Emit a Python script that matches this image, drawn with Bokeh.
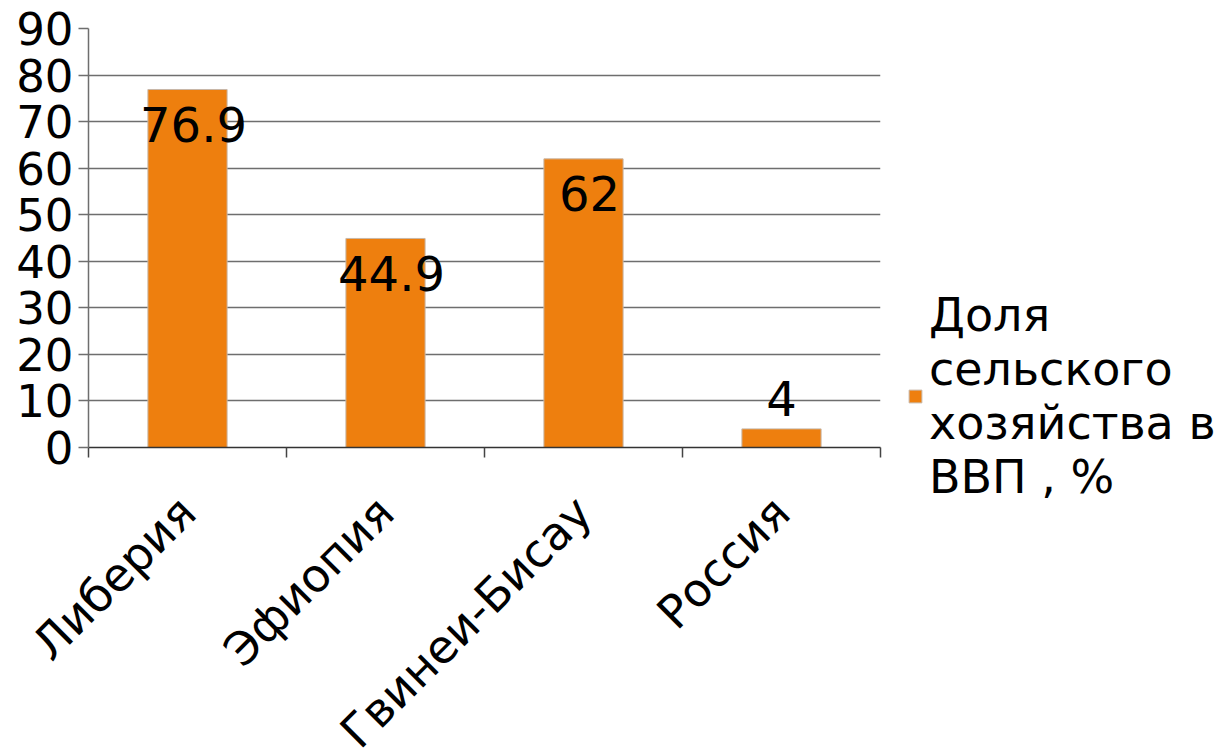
from math import pi
from bokeh.plotting import figure
from bokeh.models import (ColumnDataSource, Range1d, FixedTicker, Legend, LegendItem)
from bokeh.core.properties import value
from bokeh.embed import file_html
from bokeh.resources import INLINE

# ---- data ----
countries = ["Либерия", "Эфиопия", "Гвинеи-Бисау", "Россия"]
shares = [76.9, 44.9, 62, 4]
share_labels = ["76.9", "44.9", "62", "4"]
series_name = "Доля\nсельского\nхозяйства в\nВВП , %"
y_ticks = [0, 10, 20, 30, 40, 50, 60, 70, 80, 90]

FONT = "DejaVu Sans"
BAR = "#ee7f0e"

# layout (pixels)
LEFT, FRAME_W, RIGHT = 88, 792, 348
TOP, FRAME_H, BOTTOM = 28, 419, 308
Y_MAX = 90
N = len(countries)

pos = [i + 0.5 for i in range(N)]
bounds = [float(i) for i in range(N + 1)]

src = ColumnDataSource(dict(x=pos, top=shares, lab=share_labels))
src_in = ColumnDataSource(dict(
    x=[p for p, v in zip(pos, shares) if v >= 10],
    y=[v for v in shares if v >= 10],
    lab=[l for l, v in zip(share_labels, shares) if v >= 10]))
src_out = ColumnDataSource(dict(
    x=[p for p, v in zip(pos, shares) if v < 10],
    y=[v for v in shares if v < 10],
    lab=[l for l, v in zip(share_labels, shares) if v < 10]))

p = figure(frame_width=FRAME_W, frame_height=FRAME_H,
           min_border_left=LEFT, min_border_right=RIGHT,
           min_border_top=TOP, min_border_bottom=BOTTOM,
           x_range=Range1d(0, N), y_range=Range1d(0, Y_MAX),
           output_backend="svg", toolbar_location=None)
p.outline_line_color = None
p.background_fill_color = "white"
p.border_fill_color = "white"

bars = p.vbar(x="x", top="top", width=0.4, bottom=0, source=src,
              fill_color=BAR, line_color="#c8b8a8", line_width=1)

p.text(x="x", y="y", text="lab", source=src_in, text_align="center",
       text_baseline="middle", x_offset=6, y_offset=35, text_font=value(FONT),
       text_font_size="48px", text_color="black")
p.text(x="x", y="y", text="lab", source=src_out, text_align="center",
       text_baseline="middle", y_offset=-30, text_font=value(FONT),
       text_font_size="48px", text_color="black")

# y axis
p.yaxis.ticker = FixedTicker(ticks=y_ticks)
p.yaxis.major_label_text_font = FONT
p.yaxis.major_label_text_font_size = "45px"
p.yaxis.major_label_text_color = "black"
p.yaxis.major_tick_out = 10
p.yaxis.major_tick_in = 0
p.yaxis.minor_tick_out = 0
p.yaxis.minor_tick_in = 0
p.yaxis.axis_line_color = "#6e6e6e"
p.yaxis.axis_line_width = 1.5
p.yaxis.major_tick_line_color = "#6e6e6e"
p.yaxis.major_tick_line_width = 1.5
p.yaxis.major_label_standoff = 5

# x axis
p.xaxis.ticker = FixedTicker(ticks=pos, minor_ticks=bounds)
p.xaxis.major_label_overrides = {x: c for x, c in zip(pos, countries)}
p.xaxis.major_label_orientation = pi / 4
p.xaxis.major_label_text_font = FONT
p.xaxis.major_label_text_font_size = "46px"
p.xaxis.major_label_text_color = "black"
p.xaxis.major_tick_out = 0
p.xaxis.major_tick_in = 0
p.xaxis.minor_tick_out = 10
p.xaxis.minor_tick_in = 0
p.xaxis.minor_tick_line_color = "#444444"
p.xaxis.minor_tick_line_width = 1.5
p.xaxis.axis_line_color = "#333333"
p.xaxis.axis_line_width = 1.5
p.xaxis.major_label_standoff = 47

p.xgrid.grid_line_color = None
p.ygrid.ticker = FixedTicker(ticks=y_ticks)
p.ygrid.grid_line_color = "#6e6e6e"
p.ygrid.grid_line_width = 1.5

legend = Legend(items=[LegendItem(label=series_name, renderers=[bars])],
                location=(27, -57), padding=0, margin=0, spacing=0,
                glyph_width=16, glyph_height=16, label_standoff=6,
                label_text_font=FONT, label_text_font_size="46px",
                label_text_color="black",
                background_fill_alpha=0, border_line_color=None)
p.add_layout(legend, "right")

open("out.html", "w").write(file_html(p, INLINE))
